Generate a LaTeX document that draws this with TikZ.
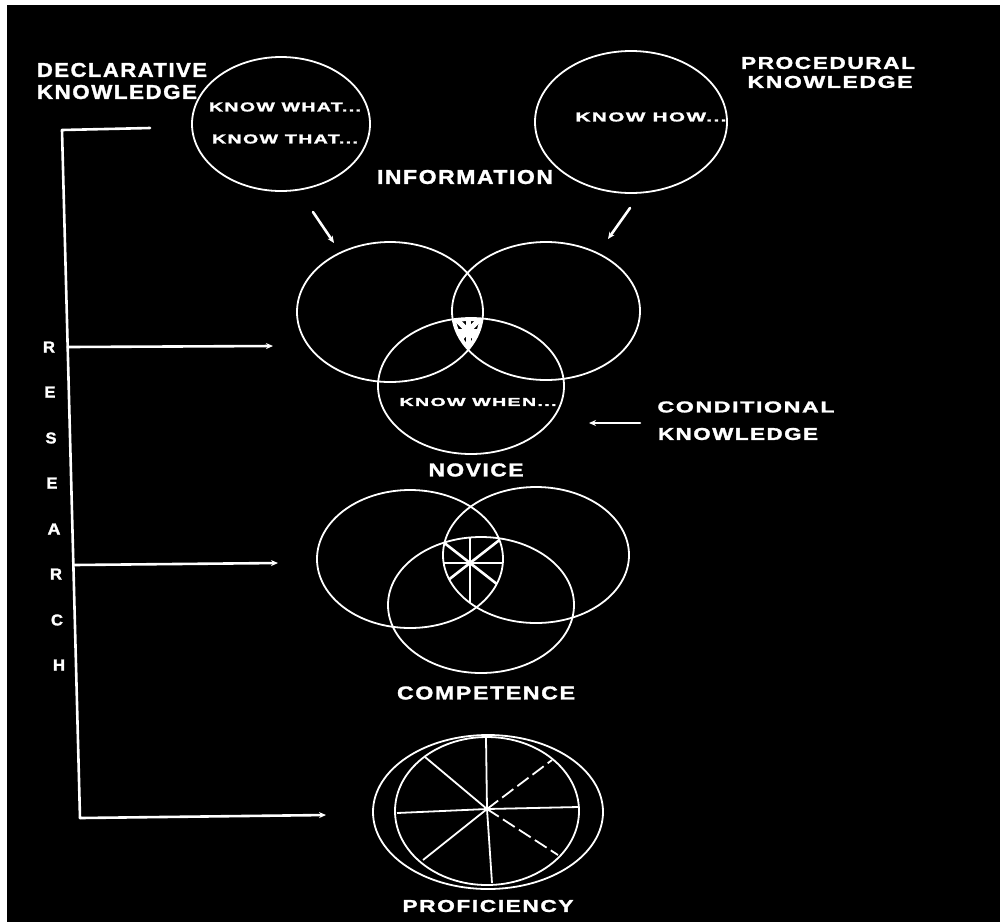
\documentclass[tikz,border=0pt]{standalone}
\usepackage{fontspec}
\usepackage{graphicx}
\setmainfont{Liberation Sans}
\newfontfamily\lblfont{Liberation Sans Bold}[LetterSpace=7, FakeBold=1.5]
\usetikzlibrary{shapes.geometric,arrows.meta}
\newcommand{\lbl}[3]{\resizebox{#1pt}{#2pt}{\lblfont #3}}
\begin{document}
\begin{tikzpicture}[x=1pt,y=-1pt,
  every node/.style={text=white, inner sep=0pt, outer sep=0pt},
  oval/.style={draw=white, line width=1.8pt, ellipse, inner sep=0pt},
  wire/.style={draw=white, line width=2.6pt, line cap=round, line join=round},
  tipped/.style={-{Stealth[length=7pt,width=6pt]}},
  spoke/.style={draw=white, line width=2.6pt},
  thinspoke/.style={draw=white, line width=1.8pt},
  brk/.style={dash pattern=on 14pt off 5pt},
]
\useasboundingbox (0,0) rectangle (1000,922);
\fill[white] (0,0) rectangle (1000,922);
\fill[black] (7,5) rectangle (1000,922);

% ---------- information ----------
\node[oval, minimum width=178pt, minimum height=134pt] (decl) at (281,124) {};
\node[oval, minimum width=192pt, minimum height=142pt] (proc) at (631,122) {};
\node (dk1) at (122,70) {\lbl{170}{14}{DECLARATIVE}};
\node (dk2) at (117,92) {\lbl{160}{14}{KNOWLEDGE}};
\node (pk1) at (828,63) {\lbl{174}{12}{PROCEDURAL}};
\node (pk2) at (830,82) {\lbl{165}{12}{KNOWLEDGE}};
\node (kwhat) at (285,107) {\lbl{152}{9}{KNOW WHAT...}};
\node (kthat) at (285,139) {\lbl{146}{9}{KNOW THAT...}};
\node (khow) at (651,117) {\lbl{151}{9}{KNOW HOW...}};
\node (info) at (465,177) {\lbl{176}{14}{INFORMATION}};

\coordinate (a1s) at (313,212); \coordinate (a1e) at (334,243);
\coordinate (a2s) at (630,208); \coordinate (a2e) at (608,239);
\draw[wire, tipped] (a1s) -- (a1e);
\draw[wire, tipped] (a2s) -- (a2e);

% ---------- novice ----------
\node[oval, minimum width=186pt, minimum height=140pt] (nL) at (390,312) {};
\node[oval, minimum width=188pt, minimum height=138pt] (nR) at (546,311) {};
\node[oval, minimum width=186pt, minimum height=136pt] (nB) at (471,386) {};
\begin{scope}
  \clip (390,312) ellipse [x radius=93pt, y radius=70pt];
  \clip (546,311) ellipse [x radius=94pt, y radius=69pt];
  \clip (471,386) ellipse [x radius=93pt, y radius=68pt];
  \coordinate (nc) at (468,331);
  \foreach \a in {0,45,...,315} \draw[white, line width=5pt] (nc) -- ++(\a:30pt);
  \draw[white, line width=6pt] (390,312) ellipse [x radius=93pt, y radius=70pt];
  \draw[white, line width=6pt] (546,311) ellipse [x radius=94pt, y radius=69pt];
  \draw[white, line width=6pt] (471,386) ellipse [x radius=93pt, y radius=68pt];
\end{scope}
\node (kwhen) at (478,402) {\lbl{157}{8}{KNOW WHEN...}};
\node (novice) at (476,470) {\lbl{95}{13}{NOVICE}};

\node (ck1) at (746,407) {\lbl{177}{11}{CONDITIONAL}};
\node (ck2) at (738,434) {\lbl{160}{12}{KNOWLEDGE}};
\coordinate (c1s) at (640,423); \coordinate (c1e) at (589,423);
\draw[wire, tipped] (c1s) -- (c1e);

% ---------- competence ----------
\node[oval, minimum width=186pt, minimum height=138pt] (cL) at (410,559) {};
\node[oval, minimum width=186pt, minimum height=136pt] (cR) at (536,555) {};
\node[oval, minimum width=186pt, minimum height=136pt] (cB) at (481,605) {};
\begin{scope}
  \clip (410,559) ellipse [x radius=93pt, y radius=69pt];
  \clip (536,555) ellipse [x radius=93pt, y radius=68pt];
  \clip (481,605) ellipse [x radius=93pt, y radius=68pt];
  \coordinate (cc) at (470,563);
  \foreach \a in {0,38,90,142,180,218,270,322} \draw[spoke] (cc) -- ++(\a:80pt);
\end{scope}
\node (comp) at (486,693) {\lbl{178}{13}{COMPETENCE}};

% ---------- proficiency ----------
\node[oval, minimum width=230pt, minimum height=154pt] (pOut) at (488,812) {};
\node[oval, minimum width=184pt, minimum height=148pt] (pIn) at (487,811) {};
\coordinate (pc) at (487,809);
\coordinate (pT) at (486,738); \coordinate (pB) at (492,883);
\coordinate (pLft) at (397,813); \coordinate (pRt) at (578,807);
\coordinate (pUL) at (425,757); \coordinate (pUR) at (552,760);
\coordinate (pLL) at (423,860); \coordinate (pLR) at (558,855);
\draw[thinspoke] (pc) -- (pT);
\draw[thinspoke] (pc) -- (pB);
\draw[thinspoke] (pc) -- (pLft);
\draw[thinspoke] (pc) -- (pRt);
\draw[thinspoke] (pc) -- (pUL);
\draw[thinspoke] (pc) -- (pLL);
\draw[thinspoke, brk] (pc) -- (pUR);
\draw[thinspoke, brk] (pc) -- (pLR);
\node (prof) at (488,906) {\lbl{171}{12}{PROFICIENCY}};

% ---------- research bracket ----------
\coordinate (bTop) at (62,130);
\coordinate (bTopEnd) at (150,128);
\coordinate (bR) at (67.7,347);
\coordinate (bREnd) at (273,346);
\coordinate (bA) at (73.4,565);
\coordinate (bAEnd) at (278,563);
\coordinate (bBot) at (80,818);
\coordinate (bBotEnd) at (326,815);
\draw[wire] (bTopEnd) -- (bTop) -- (bBot);
\draw[wire, tipped] (bR) -- (bREnd);
\draw[wire, tipped] (bA) -- (bAEnd);
\draw[wire, tipped] (bBot) -- (bBotEnd);

\node (r1) at (49,347) {\lbl{12}{11}{R}};
\node (r2) at (50,392) {\lbl{11}{11}{E}};
\node (r3) at (51,438) {\lbl{11}{11}{S}};
\node (r4) at (52,483) {\lbl{11}{11}{E}};
\node (r5) at (54,529) {\lbl{13}{11}{A}};
\node (r6) at (56,574) {\lbl{12}{11}{R}};
\node (r7) at (57,620) {\lbl{12}{11}{C}};
\node (r8) at (59,665) {\lbl{12}{11}{H}};
\end{tikzpicture}
\end{document}
